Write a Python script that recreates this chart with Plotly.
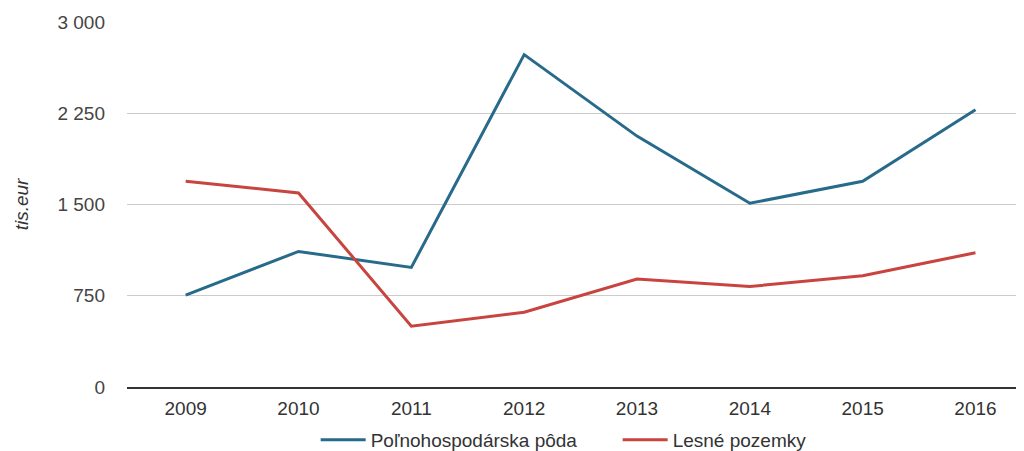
import plotly.graph_objects as go

years = ["2009", "2010", "2011", "2012", "2013", "2014", "2015", "2016"]
polnohospodarska = [755, 1114, 983, 2732, 2062, 1510, 1691, 2279]
lesne = [1691, 1595, 500, 615, 887, 826, 914, 1104]
y_ticks = [0, 750, 1500, 2250, 3000]

fig = go.Figure()
fig.add_trace(go.Scatter(x=years, y=polnohospodarska, mode="lines",
                         name="Poľnohospodárska pôda",
                         line=dict(color="#276a8a", width=3)))
fig.add_trace(go.Scatter(x=years, y=lesne, mode="lines",
                         name="Lesné pozemky",
                         line=dict(color="#c8443f", width=3)))

# page body has an 8px default margin; margins below compensate for it
fig.update_layout(
    width=1024, height=451,
    margin=dict(l=119, r=8, t=14, b=72, autoexpand=False),
    paper_bgcolor="white", plot_bgcolor="white",
    font=dict(family="Liberation Sans, Arial, sans-serif", size=19, color="#333"),
    separators=", ",
    showlegend=True,
    legend=dict(orientation="h", x=0.547, xanchor="center", y=-0.093, yanchor="top",
                font=dict(size=19, color="#333"), itemwidth=45, entrywidth=242),
    xaxis=dict(type="category", range=[-0.52, 7.43], showgrid=False,
               showline=True, linecolor="#333", linewidth=2,
               ticks="", ticklabelstandoff=3, automargin=False,
               tickfont=dict(size=19, color="#333")),
    yaxis=dict(range=[0, 3000], tickvals=y_ticks, tickformat=",d",
               showgrid=True, gridcolor="#cccccc", gridwidth=1,
               zeroline=False, showline=False, ticks="",
               ticklabelstandoff=21, automargin=False,
               tickfont=dict(size=19, color="#444"),
               title=dict(text="<i>tis.eur</i>", font=dict(size=19, color="#333"), standoff=23)),
)

fig.write_html("out.html")
